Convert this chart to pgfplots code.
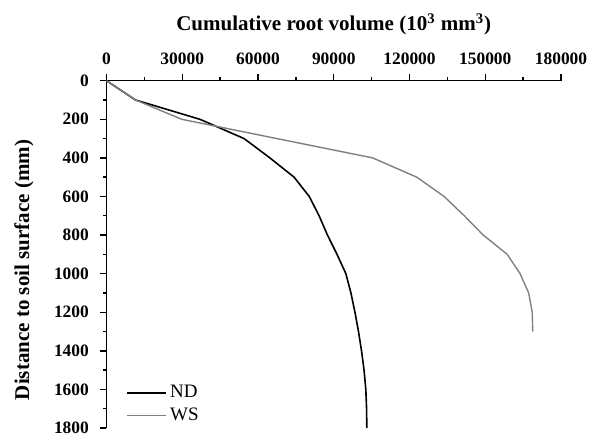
\documentclass[border=0pt]{standalone}
\usepackage{fontspec}
\setmainfont{Liberation Serif}
\usepackage{pgfplots}
\pgfplotsset{compat=1.18}

\begin{document}
\begin{tikzpicture}
  \begin{axis}[
      scale only axis,
      width=227.25pt, height=173.65pt,
      xmin=0, xmax=180000,
      ymin=0, ymax=1800,
      y dir=reverse,
      axis x line=top,
      axis y line=left,
      axis line style={-, line width=0.7pt},
      xtick={0,30000,...,180000},
      ytick={0,200,...,1800},
      minor x tick num=1,
      minor y tick num=1,
      tick align=outside,
      major tick length=3.3pt,
      minor tick length=1.7pt,
      tick style={line width=0.7pt, black},
      scaled ticks=false,
      /pgf/number format/fixed,
      /pgf/number format/precision=0,
      /pgf/number format/1000 sep={},
      /pgf/number format/assume math mode=true,
      tick label style={font=\bfseries\fontsize{8.7}{10}\selectfont},
      xticklabel style={anchor=base, yshift=4.8pt},
      yticklabel style={xshift=-2pt},
      legend style={draw=none, fill=none, inner sep=0pt, outer sep=0pt,
        at={(axis cs:0,1800)}, anchor=south west, xshift=10pt, yshift=1.5pt,
        font=\fontsize{9.5}{11}\selectfont, row sep=1.5pt,
        nodes={inner ysep=1pt, inner xsep=1.5pt},
        legend cell align=left},
      legend image code/.code={\draw[#1] (0pt,0pt) -- (19.5pt,0pt);},
    ]
    \coordinate (tl) at (axis cs:0,0);
    \coordinate (tc) at (axis cs:90000,0);
    \coordinate (lc) at (axis cs:0,900);
    \coordinate (br) at (axis cs:180000,1800);
    % ND
    \addplot[black, line width=0.8pt] table {
      0      0
      11500  100
      37000  200
      54500  300
      64700  400
      74300  500
      80300  600
      84200  700
      87500  800
      91300  900
      94800  1000
      96800  1100
      98400  1200
      99800  1300
      101000 1400
      102000 1500
      102700 1600
      103000 1700
      103100 1800
    };
    \addlegendentry{ND}
    % WS
    \addplot[gray, line width=0.7pt] table {
      0      0
      11500  100
      29800  200
      67500  300
      105400 400
      122900 500
      133700 600
      141700 700
      149200 800
      158700 900
      163800 1000
      167200 1100
      168600 1200
      168800 1300
    };
    \addlegendentry{WS}
  \end{axis}
  \node[anchor=base, font=\bfseries\fontsize{10.5}{12}\selectfont]
    at ([yshift=24.85pt]tc) {Cumulative root volume (10\textsuperscript{3} mm\textsuperscript{3})};
  \node[rotate=90, anchor=center, font=\bfseries\fontsize{10.5}{12}\selectfont]
    at ([xshift=-41.25pt,yshift=-7.8pt]lc) {Distance to soil surface (mm)};
  \pgfresetboundingbox
  \path[use as bounding box] ([xshift=-53.25pt,yshift=40.35pt]tl) rectangle ([xshift=19.5pt,yshift=-3.5pt]br);
\end{tikzpicture}
\end{document}
